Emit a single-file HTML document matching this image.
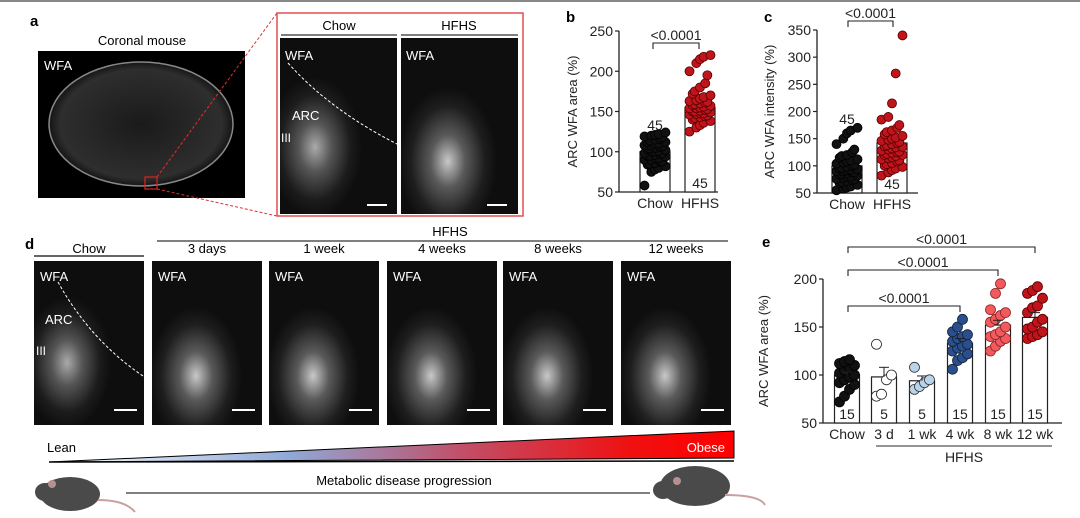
<!DOCTYPE html>
<html><head><meta charset="utf-8"><style>
html,body{margin:0;padding:0;background:#fff;}
svg{display:block;font-family:"Liberation Sans",sans-serif;}
</style></head><body>
<svg id="fig" width="1080" height="518" viewBox="0 0 1080 518" xmlns="http://www.w3.org/2000/svg">
<defs>
<radialGradient id="glowA" cx="0.3" cy="0.62" r="0.4"><stop offset="0" stop-color="#aaa"/><stop offset="0.35" stop-color="#555"/><stop offset="0.75" stop-color="#1c1c1c"/><stop offset="1" stop-color="#0e0e0e"/></radialGradient>
<radialGradient id="glowB" cx="0.4" cy="0.7" r="0.42"><stop offset="0" stop-color="#c8c8c8"/><stop offset="0.35" stop-color="#5a5a5a"/><stop offset="0.75" stop-color="#1e1e1e"/><stop offset="1" stop-color="#0e0e0e"/></radialGradient>
<radialGradient id="brain" cx="0.5" cy="0.5" r="0.55"><stop offset="0" stop-color="#1a1a1a"/><stop offset="0.8" stop-color="#2e2e2e"/><stop offset="1" stop-color="#000"/></radialGradient>
<linearGradient id="prog" x1="0" x2="1" y1="0" y2="0"><stop offset="0" stop-color="#fff"/><stop offset="0.35" stop-color="#8fa9d8"/><stop offset="0.6" stop-color="#c0506a"/><stop offset="0.85" stop-color="#f01010"/><stop offset="1" stop-color="#f00"/></linearGradient>
</defs>
<line x1="0" y1="1" x2="1080" y2="1" stroke="#888" stroke-width="2"/>

<!-- panel a -->
<g>
<text x="30" y="26" font-size="15" font-weight="bold">a</text>
<text x="142" y="45" font-size="13" text-anchor="middle">Coronal mouse</text>
<rect x="38" y="51" width="207" height="147" fill="#000"/>
<ellipse cx="141" cy="124" rx="92" ry="62" fill="url(#brain)" stroke="#888" stroke-width="1.5"/>
<text x="44" y="70" font-size="13" fill="#fff">WFA</text>
<rect x="145" y="177" width="12" height="12" fill="none" stroke="#e02020" stroke-width="1.2"/>
<line x1="157" y1="177" x2="277" y2="13" stroke="#e03030" stroke-dasharray="3,2"/>
<line x1="157" y1="189" x2="277" y2="216" stroke="#e03030" stroke-dasharray="3,2"/>
<rect x="277" y="13" width="246" height="203" fill="none" stroke="#e05050" stroke-width="1.5"/>
<text x="339" y="30" font-size="13" text-anchor="middle">Chow</text>
<text x="459" y="30" font-size="13" text-anchor="middle">HFHS</text>
<line x1="281" y1="35" x2="397" y2="35" stroke="#555" stroke-width="1.5"/>
<line x1="401" y1="35" x2="518" y2="35" stroke="#555" stroke-width="1.5"/>
<rect x="280" y="38" width="117" height="176" fill="url(#glowA)"/>
<rect x="401" y="38" width="117" height="176" fill="url(#glowB)"/>
<path d="M288 63 Q330 110 397 144" fill="none" stroke="#fff" stroke-dasharray="3,2"/>
<text x="285" y="60" font-size="13" fill="#fff">WFA</text>
<text x="406" y="60" font-size="13" fill="#fff">WFA</text>
<text x="292" y="120" font-size="13" fill="#fff">ARC</text>
<text x="281" y="142" font-size="12" fill="#fff">III</text>
<line x1="367" y1="205" x2="387" y2="205" stroke="#fff" stroke-width="2"/>
<line x1="487" y1="205" x2="507" y2="205" stroke="#fff" stroke-width="2"/>
</g>

<g id="pb"></g>
<g id="pc"></g>
<g id="pe"></g>

<!-- panel d -->
<g id="pd">
<text x="25" y="249" font-size="15" font-weight="bold">d</text>
<text x="89" y="253" font-size="13" text-anchor="middle">Chow</text>
<line x1="34" y1="256" x2="144" y2="256" stroke="#333" stroke-width="1.5"/>
<text x="450" y="236" font-size="13" text-anchor="middle">HFHS</text>
<line x1="157" y1="241" x2="728" y2="241" stroke="#555" stroke-width="1.5"/>
<polygon points="49,462 734,431 734,458 49,462" fill="url(#prog)" stroke="#000" stroke-width="1"/>
<line x1="49" y1="462" x2="734" y2="461" stroke="#000" stroke-width="1.5"/>
<text x="47" y="452" font-size="13">Lean</text>
<text x="725" y="452" font-size="13" fill="#fff" text-anchor="end">Obese</text>
<text x="404" y="485" font-size="13" text-anchor="middle">Metabolic disease progression</text>
<line x1="126" y1="493" x2="650" y2="493" stroke="#555" stroke-width="1.5"/>
<g>
<ellipse cx="70" cy="494" rx="30" ry="17" fill="#4a4a4a"/><ellipse cx="45" cy="492" rx="10" ry="9" fill="#4a4a4a"/><circle cx="52" cy="484" r="4" fill="#b89090"/>
<path d="M98 500 Q125 500 135 512" fill="none" stroke="#c9a0a0" stroke-width="2"/></g>
<g>
<ellipse cx="695" cy="486" rx="35" ry="20" fill="#4a4a4a"/><ellipse cx="663" cy="490" rx="10" ry="9" fill="#4a4a4a"/><circle cx="677" cy="481" r="4" fill="#b89090"/>
<path d="M725 495 Q760 495 765 505" fill="none" stroke="#c9a0a0" stroke-width="2"/></g>
</g>

<script>
// ---- panel b data ----
var bCats=["Chow","HFHS"];
var bMeans=[100,155];
var bN=[45,45];
var bChow=[58,75,78,80,82,84,85,86,88,88,90,90,92,92,94,95,95,96,97,98,98,100,100,101,102,103,104,105,106,107,108,108,110,110,112,112,114,115,116,118,119,120,121,122,124];
var bHfhs=[125,130,133,136,138,140,142,143,144,145,146,147,148,148,149,150,150,151,152,153,154,154,155,156,157,158,159,160,161,162,163,164,166,168,170,172,175,180,185,195,200,210,215,218,220];
var bTicks=[50,100,150,200,250];
// ---- panel c data ----
var cCats=["Chow","HFHS"];
var cMeans=[100,142];
var cN=[45,45];
var cChow=[55,58,60,62,65,68,70,72,74,75,76,78,80,80,82,84,85,86,88,88,90,90,92,93,94,95,96,98,100,102,104,106,108,110,112,115,118,120,125,130,140,150,160,165,170];
var cHfhs=[82,88,92,95,98,100,103,105,108,110,112,114,116,118,120,120,122,124,125,126,128,130,132,134,135,136,138,140,142,144,146,148,150,152,155,158,162,165,170,175,185,190,215,270,340];
var cTicks=[50,100,150,200,250,300,350];
// ---- panel e data ----
var eCats=["Chow","3 d","1 wk","4 wk","8 wk","12 wk"];
var eMeans=[100,98,94,133,152,160];
var eN=[15,5,5,15,15,15];
var eChow=[72,78,85,90,92,95,98,100,102,105,108,110,112,114,116];
var e3d=[78,80,95,100,132];
var e1wk=[85,88,92,95,108];
var e4wk=[106,115,118,122,125,128,130,132,135,138,140,142,145,150,158];
var e8wk=[125,130,135,138,140,142,145,150,155,158,162,165,168,185,195];
var e12wk=[138,140,142,145,148,150,155,158,165,170,172,180,185,188,192];
var eTicks=[50,100,150,200];

var NS="http://www.w3.org/2000/svg";
function mk(p,tag,at,txt){var e=document.createElementNS(NS,tag);for(var k in at)e.setAttribute(k,at[k]);if(txt!==undefined)e.textContent=txt;p.appendChild(e);return e;}

function chart(g,o){
  var y=function(v){return o.y0-(v-o.vmin)*(o.y0-o.y1)/(o.vmax-o.vmin);};
  var ax=mk(g,'line',{x1:o.ax,y1:o.y1,x2:o.ax,y2:o.y0,stroke:'#222','stroke-width':1.3});
  
  
  var xa=mk(g,'line',{x1:o.ax,y1:o.y0,x2:o.axEnd,y2:o.y0,stroke:'#222','stroke-width':1.3});
  
  
  o.ticks.forEach(function(t){
    mk(g,'line',{x1:o.ax-4,y1:y(t),x2:o.ax,y2:y(t),stroke:'#222','stroke-width':1.2});
    var tl=mk(g,'text',{x:o.ax-6,y:y(t)+5,'font-size':14,'text-anchor':'end',fill:'#222'},t);
    
    
  });
  var yt=mk(g,'text',{x:0,y:0,'font-size':13,'text-anchor':'middle',fill:'#222',transform:'translate('+o.titleX+','+((o.y0+o.y1)/2)+') rotate(-90)'},o.title);
  
  
  o.cats.forEach(function(c,i){
    var cx=o.cx[i],hw=o.bw/2,m=o.means[i];
    var bar=mk(g,'rect',{x:cx-hw,y:y(m),width:o.bw,height:o.y0-y(m),fill:'#fff',stroke:'#222','stroke-width':1.2});
    
    
    var vals=o.series[i].slice().sort(function(a,b){return a-b;});
    var per=o.perRow||5;
    vals.forEach(function(v,j){
      var k=j%per,off=(k-(per-1)/2)*(o.bw-2*o.r)/Math.max(per-1,1);
      if(per>4&&j%2)off*=0.7;
      var d=mk(g,'circle',{cx:cx+off,cy:y(v),r:o.r,fill:o.colors[i],stroke:o.strokes[i],'stroke-width':0.8});
      
      
    });
    if(o.err){mk(g,'line',{x1:cx,y1:y(m+o.err[i]),x2:cx,y2:y(m),stroke:'#222'});mk(g,'line',{x1:cx-5,y1:y(m+o.err[i]),x2:cx+5,y2:y(m+o.err[i]),stroke:'#222'});}
    var xl=mk(g,'text',{x:cx,y:o.y0+16,'font-size':14,'text-anchor':'middle',fill:'#222'},c);
    
    
    var ny=o.nPos[i]=='top'?y(Math.max.apply(null,vals))-4:o.y0-4;
    if(o.nPos[i]=='above')ny=y(o.nAbove[i]);
    var nl=mk(g,'text',{x:cx,y:ny,'font-size':14,'text-anchor':'middle',fill:'#222'},o.n[i]);
    
    
  });
  return y;
}
function bracket(g,x1,x2,yy,txt){
  mk(g,'path',{d:'M'+x1+' '+(yy+6)+' V'+yy+' H'+x2+' V'+(yy+6),fill:'none',stroke:'#222','stroke-width':1.1});
  var t=mk(g,'text',{x:(x1+x2)/2,y:yy-3,'font-size':14,'text-anchor':'middle',fill:'#222'},txt);
  
  
}
var red='#c0141c',blk='#111';
var gb=document.getElementById('pb');
mk(gb,'text',{x:566,y:22,'font-size':15,'font-weight':'bold'},'b');
chart(gb,{ax:619,axEnd:718,y0:192,y1:31,vmin:50,vmax:250,ticks:bTicks,title:'ARC WFA area (%)',titleX:577,cats:bCats,cx:[655,700],bw:30,means:bMeans,series:[bChow,bHfhs],colors:[blk,red],strokes:['#000','#500'],r:4.5,n:bN,nPos:['above','bottom'],nAbove:[127,0]});
bracket(gb,653,699,43,'<0.0001');

var gc=document.getElementById('pc');
mk(gc,'text',{x:764,y:22,'font-size':15,'font-weight':'bold'},'c');
chart(gc,{ax:817,axEnd:918,y0:193,y1:30,vmin:50,vmax:350,ticks:cTicks,title:'ARC WFA intensity (%)',titleX:774,cats:cCats,cx:[847,892],bw:30,means:cMeans,series:[cChow,cHfhs],colors:[blk,red],strokes:['#000','#500'],r:4.5,n:cN,nPos:['above','bottom'],nAbove:[177,0]});
bracket(gc,848,893,21,'<0.0001');

var ge=document.getElementById('pe');
mk(ge,'text',{x:762,y:247,'font-size':15,'font-weight':'bold'},'e');
var ye=chart(ge,{ax:823,axEnd:1062,y0:423,y1:279,vmin:50,vmax:200,ticks:eTicks,title:'ARC WFA area (%)',titleX:768,cats:eCats,cx:[847,884,922,960,998,1035],bw:25,means:eMeans,series:[eChow,e3d,e1wk,e4wk,e8wk,e12wk],colors:[blk,'#fff','#b9d3ea','#2b4f8e','#f25a5e',red],strokes:['#000','#222','#333','#123','#822','#500'],r:5,perRow:4,n:eN,nPos:['bottom','bottom','bottom','bottom','bottom','bottom'],err:[3,10,5,5,5,5]});
bracket(ge,848,960,306,'<0.0001');
bracket(ge,848,998,270,'<0.0001');
bracket(ge,848,1035,247,'<0.0001');
mk(ge,'line',{x1:876,y1:446,x2:1052,y2:446,stroke:'#555','stroke-width':1.2});
var hl=mk(ge,'text',{x:964,y:462,'font-size':14,'text-anchor':'middle',fill:'#222'},'HFHS');



// panel d images
var dLabels=["","3 days","1 week","4 weeks","8 weeks","12 weeks"];
var dX=[34,152,269,387,503,621];
var gd=document.getElementById('pd');
dLabels.forEach(function(l,i){
  var r=mk(gd,'rect',{x:dX[i],y:261,width:110,height:164,fill:i==0?'url(#glowA)':'url(#glowB)'});
  
  
  mk(gd,'text',{x:dX[i]+6,y:281,'font-size':13,fill:'#fff'},'WFA');
  mk(gd,'line',{x1:dX[i]+80,y1:410,x2:dX[i]+103,y2:410,stroke:'#fff','stroke-width':2});
  if(l)mk(gd,'text',{x:dX[i]+55,y:253,'font-size':13,'text-anchor':'middle'},l);
});
mk(gd,'path',{d:'M58 282 Q90 340 143 376',fill:'none',stroke:'#fff','stroke-dasharray':'3,2'});
mk(gd,'text',{x:45,y:324,'font-size':13,fill:'#fff'},'ARC');
mk(gd,'text',{x:36,y:355,'font-size':12,fill:'#fff'},'III');
</script>
</svg>
</body></html>
